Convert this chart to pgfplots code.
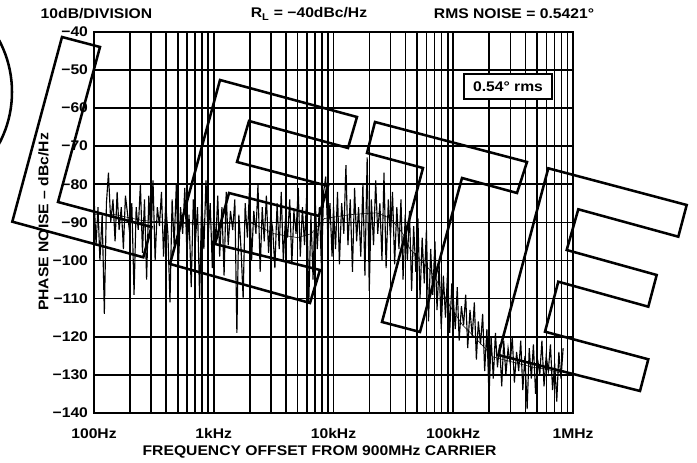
\documentclass[border=0pt]{standalone}
\usepackage{fontspec}
\setmainfont[FakeStretch=1.12]{Liberation Sans}
\usepackage{pgfplots}
\pgfplotsset{compat=1.18}
\newcommand\lbl{\bfseries\fontsize{10.5}{12}\selectfont}
\begin{document}
\begin{tikzpicture}
\useasboundingbox (0,0) rectangle (522.75pt,347.25pt);
\begin{axis}[
  at={(70.5pt,37.5pt)}, anchor=south west,
  scale only axis, width=359.25pt, height=286pt,
  xmode=log, xmin=100, xmax=1000000,
  ymin=-140, ymax=-40,
  xtick={100,1000,10000,100000,1000000},
  xticklabels={100Hz,1kHz,10kHz,100kHz,1MHz},
  minor xtick={200,300,400,500,600,700,800,900,
    2000,3000,4000,5000,6000,7000,8000,9000,
    20000,30000,40000,50000,60000,70000,80000,90000,
    200000,300000,400000,500000,600000,700000,800000,900000},
  ytick={-140,-130,...,-40},
  yticklabels={−140,−130,−120,−110,−100,−90,−80,−70,−60,−50,−40},
  grid=both,
  major grid style={black, line width=1.2pt},
  minor grid style={black, line width=1.2pt},
  axis line style={black, line width=1.6pt},
  major tick length=0pt, minor tick length=0pt,
  tick label style={font=\lbl},
  xticklabel style={yshift=-8pt},
  yticklabel style={xshift=-1pt},
]
% measured trace
\addplot[black, line width=0.85pt, mark=none] coordinates {
(100,-83) (104,-96) (108,-86) (112,-100) (117,-88) (122,-114) (127,-85) (132,-77)
(138,-90) (144,-84) (150,-95) (156,-82) (162,-92) (169,-86) (176,-97) (183,-83)
(191,-88) (199,-93) (207,-85) (216,-109) (225,-86) (234,-92) (244,-80) (254,-98)
(264,-84) (275,-105) (287,-83) (299,-94) (311,-79) (324,-100) (338,-86) (352,-91)
(366,-82) (381,-99) (397,-85) (414,-93) (431,-111) (449,-84) (467,-96) (487,-80)
(507,-102) (528,-86) (550,-93) (573,-81) (597,-98) (622,-88) (648,-107) (675,-84)
(703,-95) (732,-86) (762,-110) (794,-83) (827,-97) (861,-79) (897,-94) (934,-85)
(973,-102)
(1000,-88) (1040,-95) (1080,-83) (1120,-99) (1170,-86) (1220,-104) (1270,-82) (1320,-96)
(1380,-87) (1440,-92) (1500,-84) (1560,-119) (1620,-88) (1690,-97) (1760,-110) (1830,-85)
(1910,-94) (1990,-81) (2070,-100) (2160,-87) (2250,-93) (2340,-80) (2440,-103) (2540,-86)
(2640,-95) (2750,-83) (2870,-98) (2990,-88) (3110,-92) (3240,-102) (3380,-85) (3520,-97)
(3660,-82) (3810,-100) (3970,-89) (4140,-94) (4310,-84) (4490,-101) (4670,-87) (4870,-93)
(5070,-81) (5280,-99) (5500,-86) (5730,-96) (5970,-83) (6220,-111) (6480,-88) (6750,-105)
(7030,-84) (7320,-97) (7620,-86) (7940,-102) (8270,-82) (8610,-78) (8970,-94) (9340,-85)
(9730,-99)
(10000,-86) (10400,-97) (10800,-82) (11200,-101) (11700,-85) (12200,-93) (12700,-75) (13200,-96)
(13800,-84) (14400,-103) (15000,-81) (15600,-95) (16200,-86) (16900,-99) (17600,-80) (18300,-104)
(19100,-73) (19900,-108) (20700,-84) (21600,-96) (22500,-79) (23400,-93) (24400,-85) (25400,-100)
(26400,-77) (27500,-102) (28700,-84) (29900,-94) (31100,-82) (32400,-101) (33800,-86) (35200,-97)
(36600,-84) (38100,-105) (39700,-88) (41400,-100) (43100,-87) (44900,-108) (46700,-91) (48700,-103)
(50700,-89) (52800,-110) (55000,-94) (57300,-106) (59700,-92) (62200,-116) (64800,-97) (67500,-109)
(70300,-95) (73200,-113) (76200,-101) (79400,-118) (82700,-104) (86100,-115) (89700,-103) (93400,-119)
(97300,-106)
(100000,-110) (104000,-118) (108000,-107) (112000,-121) (117000,-112) (122000,-117) (127000,-109) (132000,-123)
(138000,-113) (144000,-120) (150000,-111) (156000,-126) (162000,-116) (169000,-122) (176000,-114) (183000,-129)
(191000,-118) (199000,-136) (207000,-120) (216000,-131) (225000,-119) (234000,-128) (244000,-122) (254000,-133)
(264000,-121) (275000,-130) (287000,-123) (299000,-127) (311000,-120) (324000,-132) (338000,-124) (352000,-129)
(366000,-121) (381000,-134) (397000,-125) (414000,-139) (431000,-123) (449000,-131) (467000,-122) (487000,-135)
(507000,-126) (528000,-130) (550000,-121) (573000,-133) (597000,-125) (622000,-129) (648000,-122) (675000,-134)
(703000,-127) (732000,-137) (762000,-124) (794000,-131) (827000,-123)
};
% averaged trace
\addplot[black, line width=0.4pt, mark=none] coordinates {
(100,-88) (150,-88) (250,-89.5) (400,-90) (700,-90.5) (1000,-90.5) (2000,-90)
(3200,-93) (5000,-94) (6500,-93) (8400,-89) (13700,-88) (23000,-87.5) (30000,-89)
(38000,-93) (43500,-97) (50000,-99) (64000,-102.5) (75000,-106) (94000,-112)
(120000,-117) (150000,-120) (215000,-125.3) (300000,-126.5) (463000,-128)
(600000,-128.5) (780000,-129.5)
};
\end{axis}
\begin{scope}[x=0.75pt, y=-0.75pt, yshift=347.25pt, font=\lbl]
\node at (96.5,14) {10dB/DIVISION};
\node at (309,14) {R\textsubscript{L} = −40dBc/Hz};
\node at (514,14) {RMS NOISE = 0.5421°};
\draw[line width=1.5pt, fill=white] (464,74) rectangle (552,99);
\node at (508,87) {0.54° rms};
\node at (319.5,452) {FREQUENCY OFFSET FROM 900MHz CARRIER};
\node[rotate=90] at (43.5,222) {PHASE NOISE – dBc/Hz};
% watermark outlines
\clip (0,0) rectangle (697,463);
\begin{scope}[line width=1.9pt, line join=miter]
\draw (-98,92) circle (110);
\draw (62,37) -- (100,47) -- (58,202) -- (151.5,227) -- (143.3,257.3) -- (12.3,221.7) -- cycle;
\draw (220,80) -- (357,117) -- (348,148) -- (249,121) -- (237,162) -- (328,186) -- (319,216)
  -- (229,193) -- (215,244) -- (320,270) -- (310,303) -- (170,264) -- cycle;
\draw (375,122) -- (527,162) -- (517,193) -- (462,178) -- (420,332) -- (382,322) -- (423,168)
  -- (367,153) -- cycle;
\draw (548.3,168.3) -- (686.7,205) -- (678.3,236.7) -- (578.3,209.3) -- (566.7,250) -- (656.7,275)
  -- (648.3,306.7) -- (558.3,281.7) -- (545,331.7) -- (648.3,359.3) -- (640,391) -- (498.3,355) -- cycle;
\end{scope}
\end{scope}
\end{tikzpicture}
\end{document}
